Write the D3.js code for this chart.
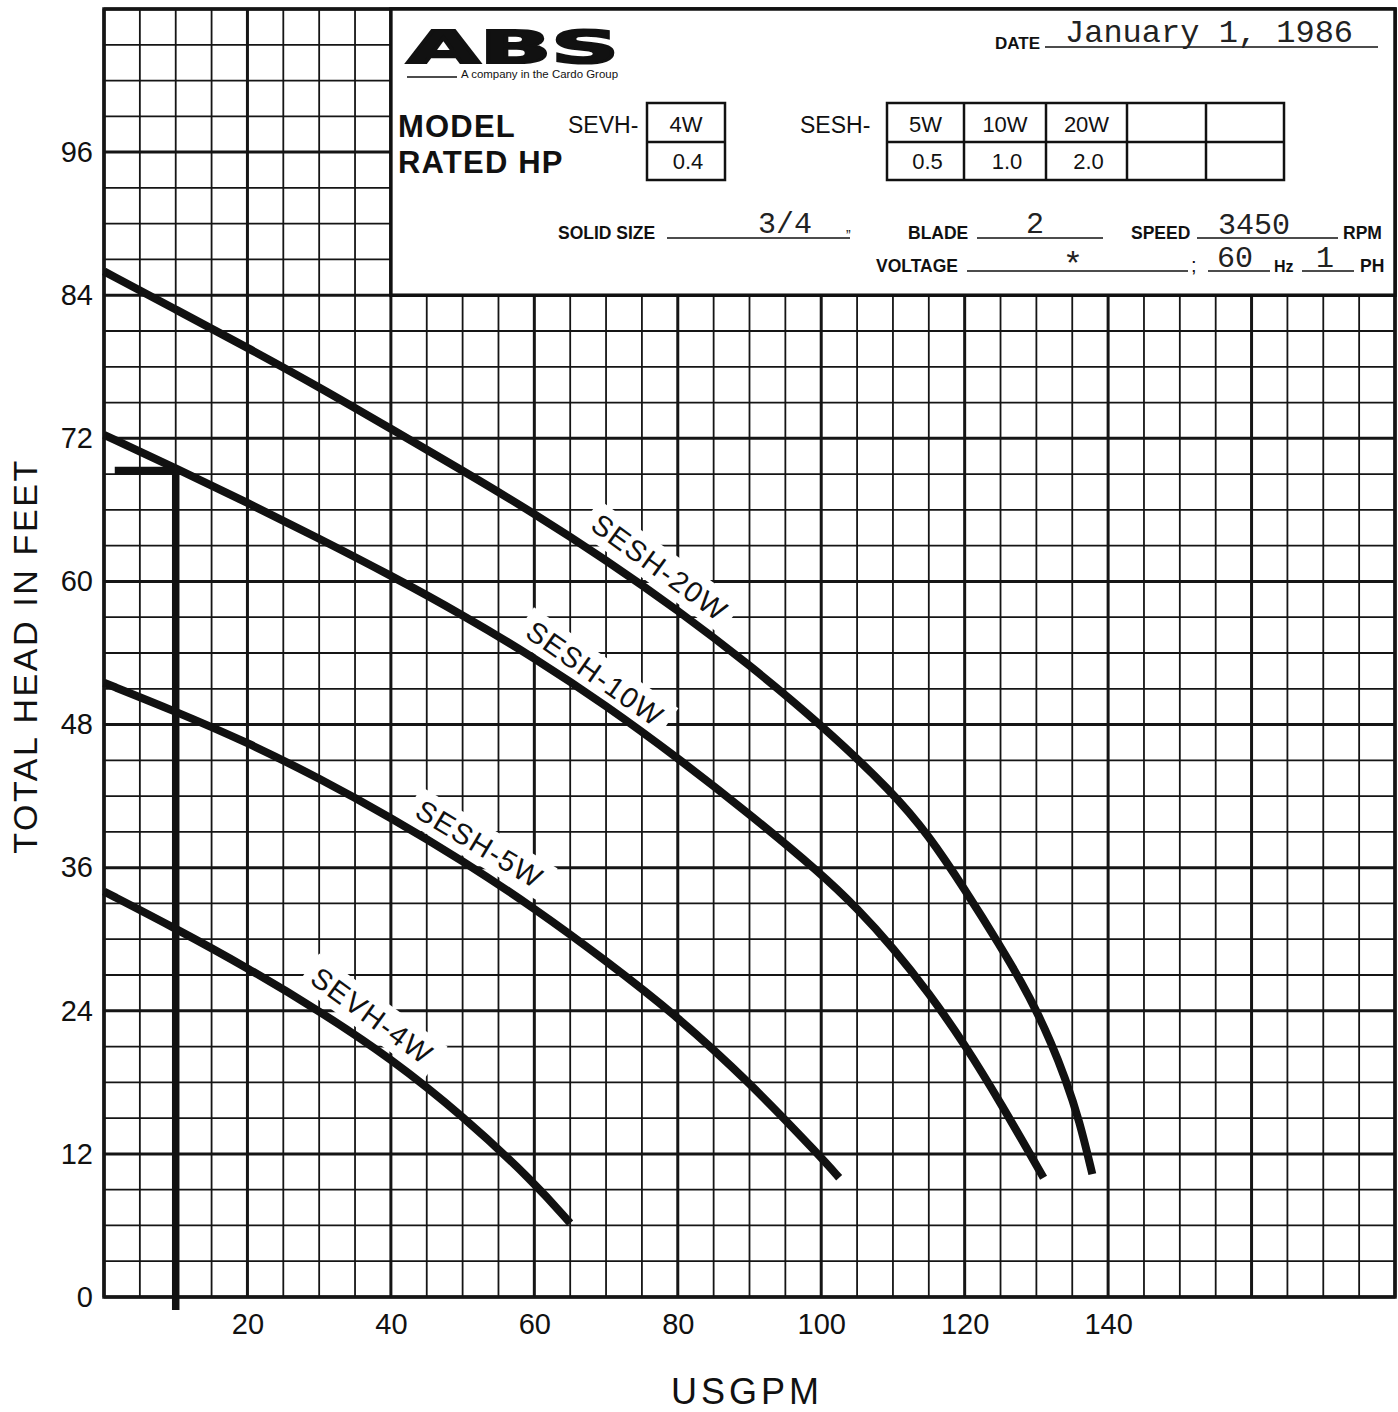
<!DOCTYPE html>
<html>
<head>
<meta charset="utf-8">
<script src="https://cdn.jsdelivr.net/npm/d3@7"></script>
<style>
  body { margin: 0; background: #fff; }
  svg text { font-family: "Liberation Sans", Arial, Helvetica, sans-serif; fill: #111; }
  svg text.mono { font-family: "Liberation Mono", "Courier New", monospace; fill: #222; }
  svg text.b { font-weight: bold; }
</style>
</head>
<body>
<div id="chart"></div>
<script>
// flow (US GPM) and total head (ft)
var flow4W  = [0, 10, 20, 30, 40, 50, 60, 65];
var head4W  = [34, 30.9, 27.6, 24, 20, 15.2, 9.6, 6.2];
var flow5W  = [0, 10, 20, 30, 40, 50, 60, 70, 80, 90, 100, 102.5];
var head5W  = [51.5, 49.1, 46.5, 43.5, 40.2, 36.6, 32.6, 28.2, 23.5, 18, 11.7, 10];
var flow10W = [0, 10, 20, 30, 40, 50, 60, 70, 80, 90, 100, 105, 110, 115, 120, 125, 131];
var head10W = [72.3, 69.5, 66.6, 63.6, 60.5, 57.2, 53.6, 49.6, 45.2, 40.5, 35.5, 32.6, 29.3, 25.5, 21.2, 16.3, 10];
var flow20W = [0, 10, 20, 30, 40, 50, 60, 70, 80, 90, 100, 110, 115, 120, 125, 128, 130, 132, 134, 136, 137.8];
var head20W = [86, 82.8, 79.6, 76.3, 72.8, 69.3, 65.7, 61.8, 57.6, 53, 48, 42.3, 38.7, 34.2, 29.4, 26.3, 24, 21.4, 18.4, 14.8, 10.3];

// hand drawn duty mark
var dutyFlow = [1.5, 10, 10];
var dutyHead = [69.3, 69.3, -1.1];

var seriesNames = ["SEVH-4W", "SESH-5W", "SESH-10W", "SESH-20W"];
var labelFlow = [37.4, 52.4, 68.5, 77.5];
var labelHead = [23.6, 38.0, 52.3, 61.2];
var labelAngle = [36, 31, 35, 36];

var xTicks = [20, 40, 60, 80, 100, 120, 140];
var yTicks = [0, 12, 24, 36, 48, 60, 72, 84, 96];

var sevhModels = ["4W"], sevhHp = ["0.4"];
var seshModels = ["5W", "10W", "20W", "", ""], seshHp = ["0.5", "1.0", "2.0", "", ""];

function zip(a, b) { return a.map(function(v, i) { return [v, b[i]]; }); }
var curves = [zip(flow4W, head4W), zip(flow5W, head5W), zip(flow10W, head10W), zip(flow20W, head20W)];

var W = 1398, H = 1412;
var svg = d3.select("#chart").append("svg")
    .attr("width", W).attr("height", H);
svg.append("rect").attr("width", W).attr("height", H).attr("fill", "#fff");

var x = d3.scaleLinear().domain([0, 180]).range([104, 1395]);
var y = d3.scaleLinear().domain([0, 108]).range([1297, 9]);

// grid paper
var grid = svg.append("g").attr("stroke", "#151515");
grid.selectAll("line.v").data(d3.range(0, 181, 5)).enter().append("line")
    .attr("x1", function(d) { return x(d); }).attr("x2", function(d) { return x(d); })
    .attr("y1", y(108)).attr("y2", y(0))
    .attr("stroke-width", function(d) { return (d % 20 === 0) ? 3 : 1.8; });
grid.selectAll("line.h").data(d3.range(0, 109, 3)).enter().append("line")
    .attr("y1", function(d) { return y(d); }).attr("y2", function(d) { return y(d); })
    .attr("x1", x(0)).attr("x2", x(180))
    .attr("stroke-width", function(d) { return (d % 12 === 0) ? 3 : 1.8; });
grid.append("rect")
    .attr("x", x(0)).attr("y", y(108)).attr("width", x(180) - x(0)).attr("height", y(0) - y(108))
    .attr("fill", "none").attr("stroke-width", 3.5);

// header block
var hb = svg.append("g");
hb.append("rect")
    .attr("x", x(40)).attr("y", y(108)).attr("width", x(180) - x(40)).attr("height", y(84) - y(108))
    .attr("fill", "#fff").attr("stroke", "#111").attr("stroke-width", 3.5);

hb.append("text").text("ABS")
    .attr("x", 407).attr("y", 63)
    .attr("textLength", 212).attr("lengthAdjust", "spacingAndGlyphs")
    .style("font-family", "'DejaVu Sans', sans-serif").style("font-weight", "bold")
    .attr("font-size", 45).attr("stroke", "#111").attr("stroke-width", 2.2);
hb.append("line").attr("x1", 407).attr("x2", 457).attr("y1", 77).attr("y2", 77)
    .attr("stroke", "#111").attr("stroke-width", 1.5);
hb.append("text").text("A company in the Cardo Group")
    .attr("x", 461).attr("y", 78).attr("font-size", 10.5)
    .attr("textLength", 157).attr("lengthAdjust", "spacingAndGlyphs");

function hline(x1, x2, yy) {
  hb.append("line").attr("x1", x1).attr("x2", x2).attr("y1", yy).attr("y2", yy)
    .attr("stroke", "#111").attr("stroke-width", 1.6);
}
function label(txt, xx, yy, size, cls, anchor) {
  return hb.append("text").text(txt).attr("x", xx).attr("y", yy)
    .attr("font-size", size).attr("class", cls || null)
    .attr("text-anchor", anchor || "start");
}

label("DATE", 995, 49, 17, "b");
hline(1045, 1378, 47);
label("January 1, 1986", 1065, 42, 32, "mono");

label("MODEL", 398, 137, 31, "b").attr("letter-spacing", 1.2);
label("RATED HP", 398, 173, 31, "b").attr("letter-spacing", 1.2);
label("SEVH-", 568, 133, 23);
label("SESH-", 800, 133, 23);

function table(x0, colW, models, hp) {
  var t = hb.append("g");
  t.append("rect").attr("x", x0).attr("y", 103).attr("width", d3.sum(colW))
    .attr("height", 77).attr("fill", "none").attr("stroke", "#111").attr("stroke-width", 2.5);
  t.append("line").attr("x1", x0).attr("x2", x0 + d3.sum(colW)).attr("y1", 142).attr("y2", 142)
    .attr("stroke", "#111").attr("stroke-width", 2.5);
  var cx = x0;
  colW.forEach(function(w, i) {
    if (i > 0) t.append("line").attr("x1", cx).attr("x2", cx).attr("y1", 103).attr("y2", 180)
      .attr("stroke", "#111").attr("stroke-width", 2.5);
    t.append("text").text(models[i]).attr("x", cx + w / 2).attr("y", 132)
      .attr("text-anchor", "middle").attr("font-size", 22);
    t.append("text").text(hp[i]).attr("x", cx + w / 2 + 2).attr("y", 169)
      .attr("text-anchor", "middle").attr("font-size", 22);
    cx += w;
  });
}
table(647, [78], sevhModels, sevhHp);
table(887, [77, 82, 81, 79, 78], seshModels, seshHp);

label("SOLID SIZE", 558, 239, 17.5, "b");
hline(667, 850, 238);
label("3/4", 785, 233, 30, "mono", "middle");
label("\u201D", 846, 240, 14);
label("BLADE", 908, 239, 17.5, "b");
hline(977, 1103, 238);
label("2", 1035, 233, 30, "mono", "middle");
label("SPEED", 1131, 239, 17.5, "b");
hline(1197, 1338, 238);
label("3450", 1254, 234, 30, "mono", "middle");
label("RPM", 1343, 239, 17.5, "b");
label("VOLTAGE", 876, 272, 17.5, "b");
hline(967, 1188, 271);
label("*", 1073, 275, 34, "mono", "middle");
label(";", 1191, 272, 20);
hline(1208, 1270, 271);
label("60", 1235, 267, 30, "mono", "middle");
label("Hz", 1274, 272, 16, "b");
hline(1302, 1354, 271);
label("1", 1325, 267, 30, "mono", "middle");
label("PH", 1360, 272, 17.5, "b");

// axes (labels only, the paper carries the grid)
var yAxis = svg.append("g").attr("transform", "translate(" + x(0) + ",0)")
    .call(d3.axisLeft(y).tickValues(yTicks).tickSize(0).tickPadding(11));
var xAxis = svg.append("g").attr("transform", "translate(0," + y(0) + ")")
    .call(d3.axisBottom(x).tickValues(xTicks).tickSize(0).tickPadding(16));
[yAxis, xAxis].forEach(function(a) {
  a.select(".domain").remove();
  a.attr("font-family", "'Liberation Sans', Arial, sans-serif").attr("font-size", 29);
  a.selectAll("text").attr("fill", "#111");
});

svg.append("text").text("USGPM")
    .attr("x", 747).attr("y", 1404).attr("text-anchor", "middle")
    .attr("font-size", 36).attr("letter-spacing", 4);
svg.append("text").text("TOTAL HEAD IN FEET")
    .attr("transform", "translate(37,656) rotate(-90)").attr("text-anchor", "middle")
    .attr("font-size", 34).attr("letter-spacing", 2.6);

// curve labels on white patches
var labs = svg.selectAll("g.curve-label").data(seriesNames).enter().append("g")
    .attr("class", "curve-label")
    .attr("transform", function(d, i) {
      return "translate(" + x(labelFlow[i]) + "," + y(labelHead[i]) + ") rotate(" + labelAngle[i] + ")";
    });
labs.append("rect").attr("fill", "#fff");
labs.append("text").text(function(d) { return d; })
    .attr("text-anchor", "middle").attr("dy", "0.36em")
    .attr("font-size", 29).attr("letter-spacing", 1.5);
labs.each(function() {
  var g = d3.select(this);
  var len = g.select("text").node().getComputedTextLength();
  g.select("rect").attr("x", -len / 2 - 8).attr("y", -19).attr("width", len + 16).attr("height", 38);
});

// pump curves
var line = d3.line()
    .x(function(d) { return x(d[0]); })
    .y(function(d) { return y(d[1]); })
    .curve(d3.curveBasis);
svg.selectAll("path.pump").data(curves).enter().append("path")
    .attr("class", "pump")
    .attr("d", line)
    .attr("fill", "none").attr("stroke", "#111").attr("stroke-width", 8)
    .attr("stroke-linecap", "butt");

svg.append("path")
    .datum(zip(dutyFlow, dutyHead))
    .attr("d", d3.line().x(function(d) { return x(d[0]); }).y(function(d) { return y(d[1]); }))
    .attr("fill", "none").attr("stroke", "#111").attr("stroke-width", 7.5)
    .attr("stroke-linejoin", "miter");
</script>
</body>
</html>
